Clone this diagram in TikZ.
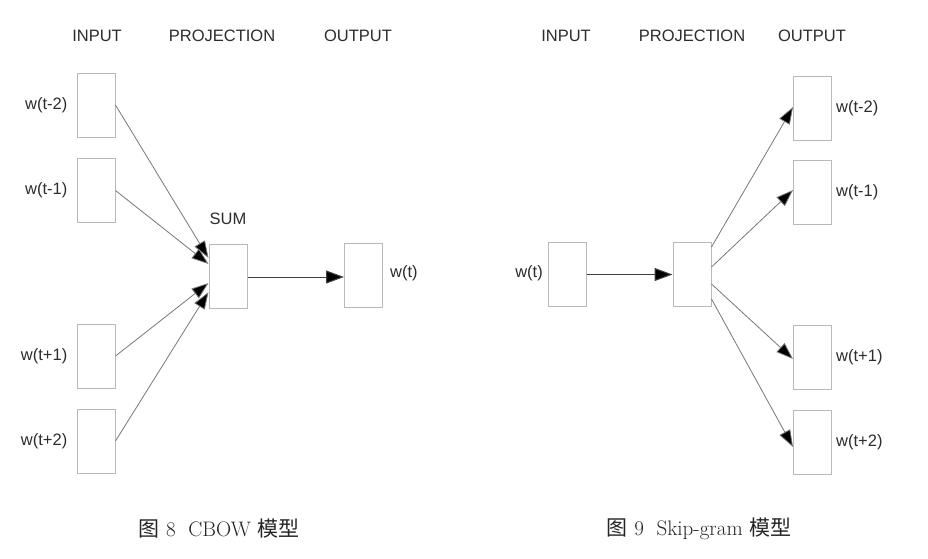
\documentclass[tikz,border=0pt]{standalone}
\usepackage{fontspec}
\newfontfamily\labelfont{Liberation Sans}
\newfontfamily\cjk{Noto Sans CJK SC}
\usetikzlibrary{arrows.meta}
\definecolor{boxgray}{RGB}{185,185,185}
\definecolor{linegray}{RGB}{120,120,120}
\definecolor{txt}{RGB}{45,45,45}
\begin{document}
\begin{tikzpicture}[x=1pt,y=-1pt,
  wbox/.style={draw=boxgray,line width=1pt,minimum width=38pt,minimum height=64pt,inner sep=0pt},
  lbl/.style={text=txt,font=\labelfont\fontsize{16.5}{19}\selectfont,inner sep=0pt},
  captext/.style={text=black!85,font=\fontsize{21}{24}\selectfont,inner sep=0pt},
  diag/.style={draw=linegray,line width=0.8pt,-{Triangle[length=17pt,width=12pt,fill=black]}},
  horiz/.style={draw=black!75,line width=1pt,-{Triangle[length=18pt,width=13pt,fill=black]}}]
\useasboundingbox[fill=white] (0,0) rectangle (928,558);

% ---------- CBOW ----------
\node[lbl] (hin)  at (97,36)  {INPUT};
\node[lbl] (hpr)  at (222,36) {PROJECTION};
\node[lbl] (hout) at (358,36) {OUTPUT};

\node[wbox] (in1) at (96,105)   {};
\node[wbox] (in2) at (96,190.5) {};
\node[wbox] (in3) at (96,356)   {};
\node[wbox] (in4) at (96,441)   {};
\node[wbox] (sum) at (228,276)  {};
\node[wbox] (out) at (363.5,275) {};

\node[lbl,anchor=east] (l1) at ([xshift=-9pt]in1.west) {w(t-2)};
\node[lbl,anchor=east] (l2) at ([xshift=-9pt]in2.west) {w(t-1)};
\node[lbl,anchor=east] (l3) at ([xshift=-9pt]in3.west) {w(t+1)};
\node[lbl,anchor=east] (l4) at ([xshift=-9pt]in4.west) {w(t+2)};
\node[lbl] (lsum) at (228,219) {SUM};
\node[lbl,anchor=west] (lout) at ([xshift=7pt,yshift=2pt]out.east) {w(t)};

\draw[diag] (in1.east) -- ([yshift=18pt]sum.west);
\draw[diag] (in2.east) -- ([yshift=12pt]sum.west);
\draw[diag] (in3.east) -- ([yshift=-7pt]sum.west);
\draw[diag] (in4.east) -- ([yshift=-16pt]sum.west);
\draw[horiz] ([yshift=-1pt]sum.east) -- ([yshift=-1pt]out.west |- sum.east);

\node[captext] (cap8) at (219,529) {{\cjk 图}~8~~CBOW~{\cjk 模型}};

% ---------- Skip-gram ----------
\node[lbl] (rhin)  at (566,36) {INPUT};
\node[lbl] (rhpr)  at (692,36) {PROJECTION};
\node[lbl] (rhout) at (812,36) {OUTPUT};

\node[wbox] (rin)  at (567.5,274.5) {};
\node[wbox] (proj) at (692,274.5) {};
\node[wbox] (o1) at (812.5,108)   {};
\node[wbox] (o2) at (812.5,192.5) {};
\node[wbox] (o3) at (812.5,357)   {};
\node[wbox] (o4) at (812.5,442)   {};

\node[lbl,anchor=east] (rlin) at ([xshift=-5pt,yshift=1pt]rin.west) {w(t)};
\node[lbl,anchor=west] (r1) at ([xshift=4pt]o1.east) {w(t-2)};
\node[lbl,anchor=west] (r2) at ([xshift=4pt]o2.east) {w(t-1)};
\node[lbl,anchor=west] (r3) at ([xshift=4pt]o3.east) {w(t+1)};
\node[lbl,anchor=west] (r4) at ([xshift=4pt]o4.east) {w(t+2)};

\draw[horiz] (rin.east) -- (proj.west);
\draw[diag] ([yshift=27.5pt]proj.east) -- ([yshift=1pt]o1.west);
\draw[diag] ([yshift=7.5pt]proj.east) -- ([yshift=2.5pt]o2.west);
\draw[diag] ([yshift=-9.5pt]proj.east) -- ([yshift=-2pt]o3.west);
\draw[diag] ([yshift=-24.5pt]proj.east) -- ([yshift=-5pt]o4.west);

\node[captext] (cap9) at (699,529) {{\cjk 图}~9~~Skip-gram~{\cjk 模型}};
\end{tikzpicture}
\end{document}
